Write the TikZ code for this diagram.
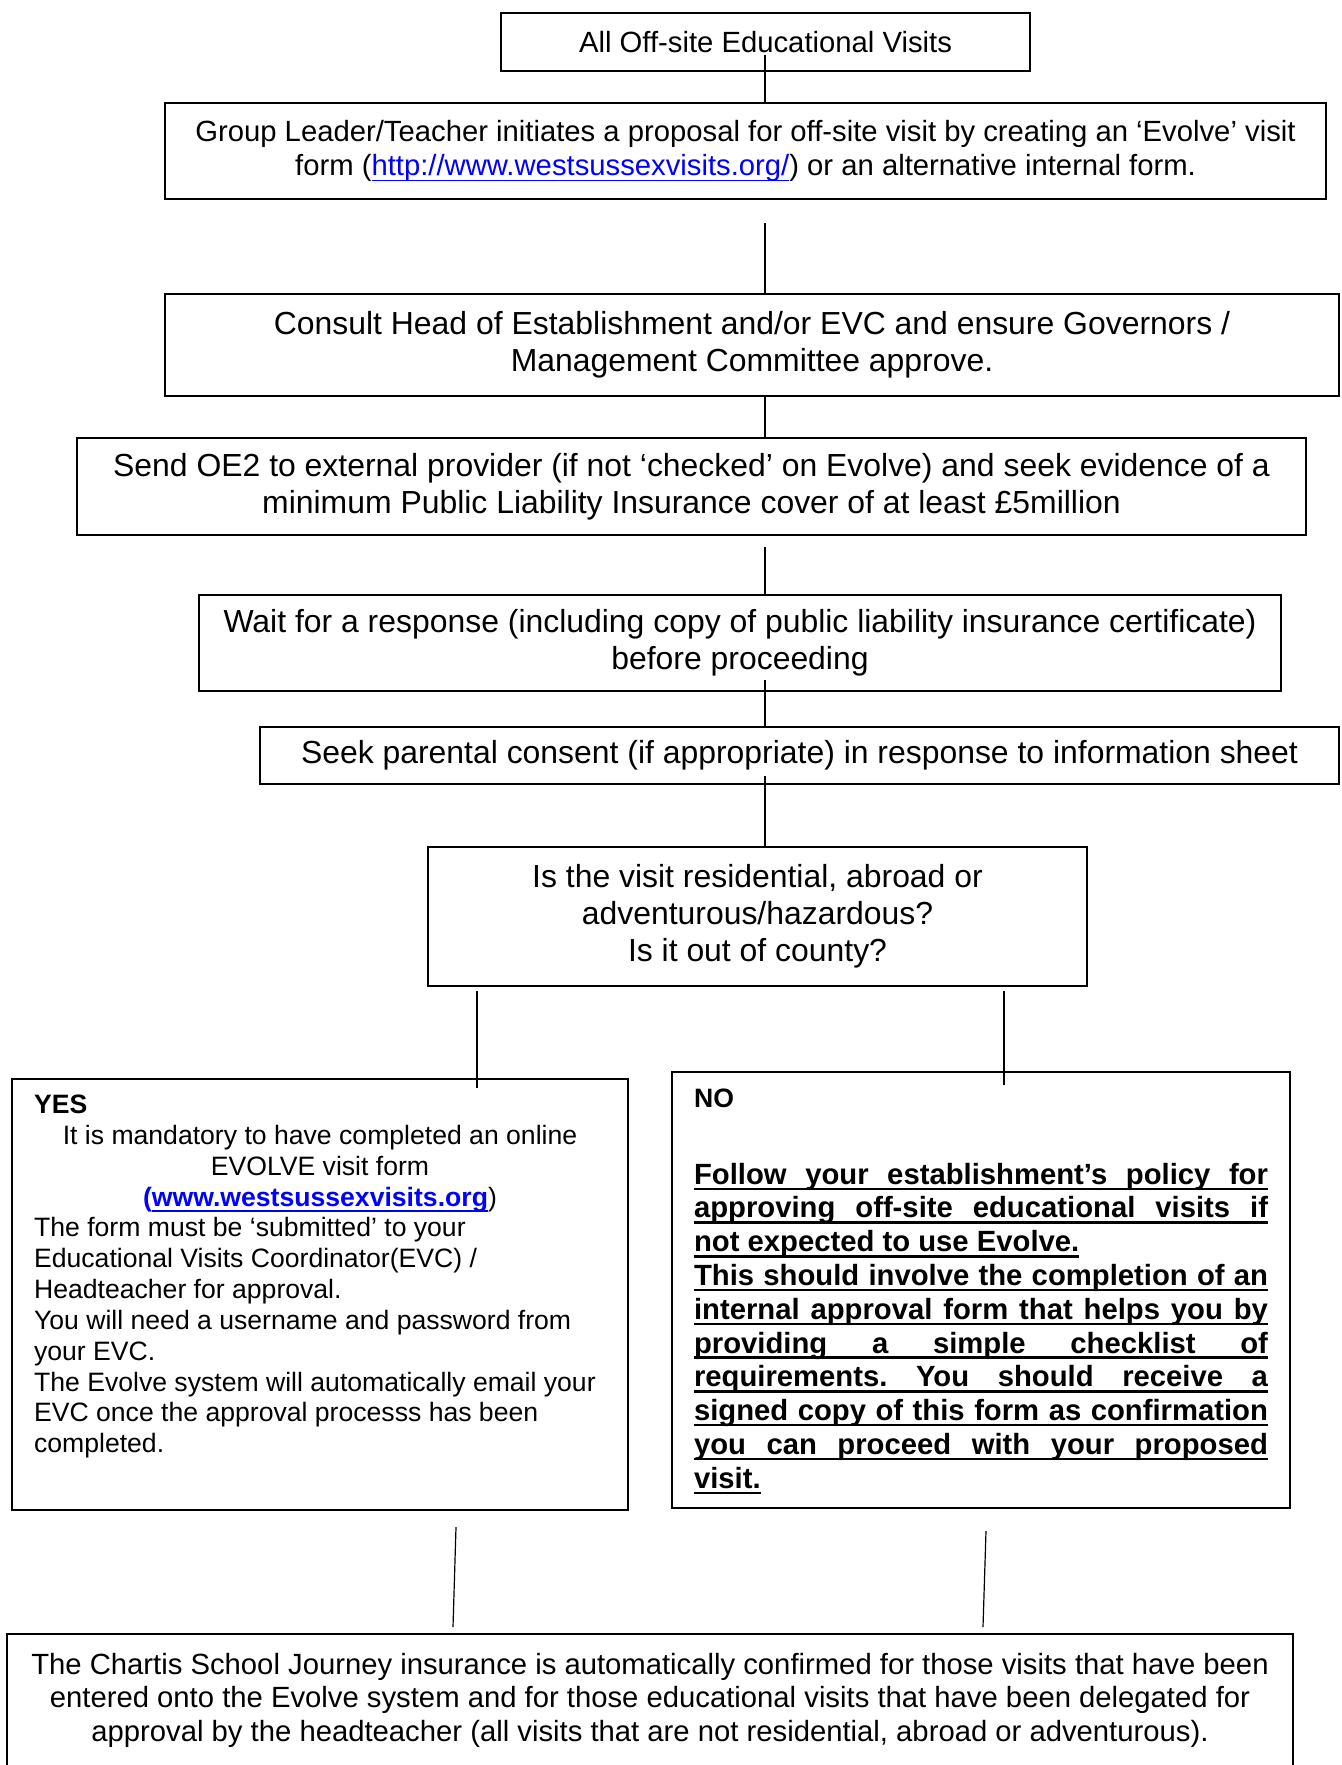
\documentclass[tikz,border=0pt]{standalone}
\usepackage{fontspec}
\setmainfont{Liberation Sans}
\usepackage{xcolor}
\usetikzlibrary{positioning,calc}

\definecolor{linkblue}{RGB}{0,0,255}
% underlined box, rule at a fixed depth
\newcommand{\ulbox}[2][0.9pt]{\sbox0{#2}\usebox0\llap{\rule[-2.2pt]{\wd0}{#1}}}
\newcommand{\ulfull}[1]{\ulbox{\makebox[\linewidth][s]{#1}}}
\frenchspacing

\begin{document}
\begin{tikzpicture}[x=0.376pt, y=-0.376pt,
    flowbox/.style={draw, line width=0.7pt, inner sep=0pt, align=center,
        font=\fontsize{12}{13.9}\selectfont},
    textbox/.style={draw, line width=0.7pt, anchor=north, inner xsep=8.3pt},
    conn/.style={line width=0.45pt}]
    \useasboundingbox (0,0) rectangle (1341,1765);

    % Steps
    \node[flowbox, minimum width=198.9pt, minimum height=21.8pt, font=\fontsize{11}{13}\selectfont] (allvisits) at (765.5,42) {All Off-site Educational Visits};
    \node[flowbox, minimum width=436.5pt, minimum height=36.1pt, font=\fontsize{11}{12.8}\selectfont] (proposal) at (745.5,151) {Group Leader/Teacher initiates a proposal for off-site visit by creating an ‘Evolve’ visit\\form (\textcolor{linkblue}{\ulbox[0.6pt]{http://www.westsussexvisits.org/}}) or an alternative internal form.};
    \node[flowbox, minimum width=441.4pt, minimum height=38.4pt] (consult) at (752,345) {Consult Head of Establishment and/or EVC and ensure Governors /\\Management Committee approve.};
    \node[flowbox, minimum width=462.1pt, minimum height=36.5pt] (sendoe) at (691.5,486.5) {Send OE2 to external provider (if not ‘checked’ on Evolve) and seek evidence of a\\minimum Public Liability Insurance cover of at least £5million};
    \node[flowbox, minimum width=406.8pt, minimum height=36.1pt] (waitresp) at (740,643) {Wait for a response (including copy of public liability insurance certificate)\\before proceeding};
    \node[flowbox, minimum width=405.7pt, minimum height=21.4pt] (consent) at (799.5,755.5) {Seek parental consent (if appropriate) in response to information sheet};
    \node[flowbox, minimum width=247.8pt, minimum height=52.3pt] (question) at (757.5,916.5) {Is the visit residential, abroad or\\adventurous/hazardous?\\Is it out of county?};

    % Yes / No
    \node[textbox, inner ysep=6pt] (yesbox) at (320,1078) {\begin{minipage}[c][150.1pt][t]{215pt}
        \fontsize{10}{11.6}\selectfont
        \textbf{YES}\par
        {\centering It is mandatory to have completed an online\\
        EVOLVE visit form\\
        {\bfseries\color{linkblue}(\ulbox[0.7pt]{www.westsussexvisits.org}}{)}\par}
        The form must be ‘submitted’ to your\\
        Educational Visits Coordinator(EVC) /\\
        Headteacher for approval.\\
        You will need a username and password from\\
        your EVC.\\
        The Evolve system will automatically email your\\
        EVC once the approval processs has been\\
        completed.
    \end{minipage}};
    \node[textbox, inner ysep=6.5pt] (nobox) at (981,1071) {\begin{minipage}[c][150.9pt][t]{215.8pt}
        \fontsize{10}{11.6}\selectfont\textbf{NO}\par\vspace{16pt}
        \fontsize{11}{12.7}\selectfont\bfseries
        \ulfull{Follow your establishment’s policy for}\\
        \ulfull{approving off-site educational visits if}\\
        \ulbox{not expected to use Evolve.}\\
        \ulfull{This should involve the completion of an}\\
        \ulfull{internal approval form that helps you by}\\
        \ulfull{providing a simple checklist of}\\
        \ulfull{requirements. You should receive a}\\
        \ulfull{signed copy of this form as confirmation}\\
        \ulfull{you can proceed with your proposed}\\
        \ulbox{visit.}
    \end{minipage}};

    % Insurance
    \node[textbox, inner ysep=7.1pt, inner xsep=2.25pt] (chartis) at (650,1633) {\begin{minipage}[c][48.6pt][t]{479pt}
        \fontsize{11}{12.7}\selectfont\centering
        The Chartis School Journey insurance is automatically confirmed for those visits that have been\\
        entered onto the Evolve system and for those educational visits that have been delegated for\\
        approval by the headteacher (all visits that are not residential, abroad or adventurous).
    \end{minipage}};

    % Connectors
    \coordinate (c1) at (765,55);
    \coordinate (c2) at (765,223);
    \coordinate (c3) at (765,547);
    \coordinate (c4) at (765,680);
    \coordinate (c5) at (765,776);
    \draw[conn] (c1) -- (c1 |- proposal.north);
    \draw[conn] (c2) -- (c2 |- consult.north);
    \draw[conn] (c2 |- consult.south) -- (c2 |- sendoe.north);
    \draw[conn] (c3) -- (c3 |- waitresp.north);
    \draw[conn] (c4) -- (c4 |- consent.north);
    \draw[conn] (c5) -- (c5 |- question.north);

    \coordinate (yestop) at (477,991);
    \coordinate (yesend) at (477,1088);
    \coordinate (notop) at (1004,991);
    \coordinate (noend) at (1004,1085);
    \draw[conn] (yestop) -- (yesend);
    \draw[conn] (notop) -- (noend);

    \coordinate (yesout) at (456,1527);
    \coordinate (yesin) at (453,1627);
    \coordinate (noout) at (986,1531);
    \coordinate (noin) at (983,1627);
    \draw[conn] (yesout) -- (yesin);
    \draw[conn] (noout) -- (noin);
\end{tikzpicture}
\end{document}
